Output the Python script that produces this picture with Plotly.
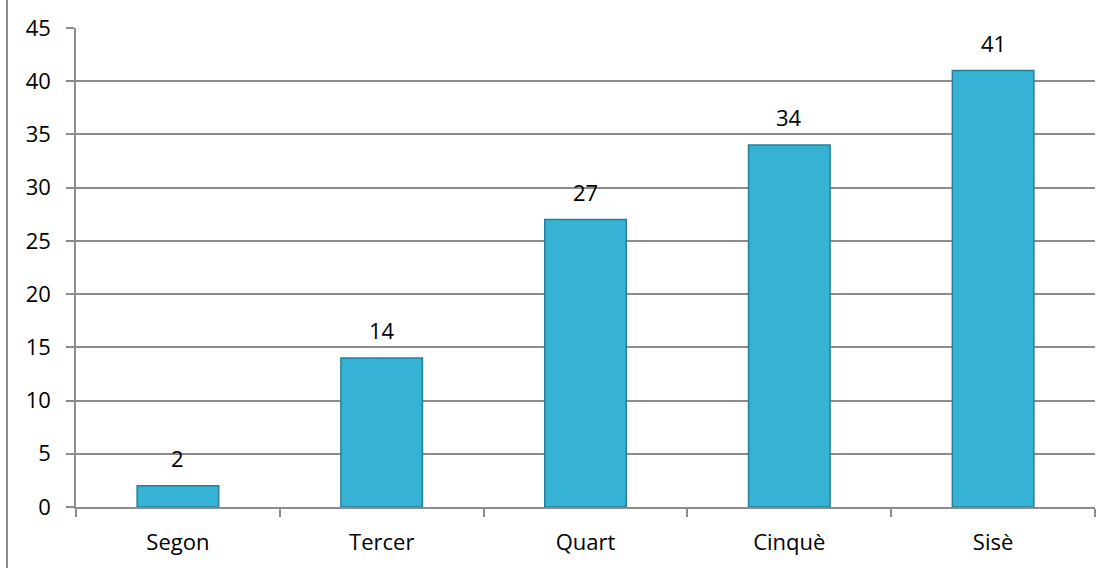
import plotly.graph_objects as go

categories = ["Segon", "Tercer", "Quart", "Cinquè", "Sisè"]
values = [2, 14, 27, 34, 41]
y_ticks = [0, 5, 10, 15, 20, 25, 30, 35, 40, 45]

xpos = list(range(len(categories)))
FONT = "Open Sans, Lato, sans-serif"
GRID = "#8c8c8c"
FS = 22

fig = go.Figure()
fig.add_trace(go.Bar(
    x=xpos, y=values, width=0.4,
    marker=dict(color="#36b2d5", line=dict(color="#237f9a", width=1.5)),
    hoverinfo="skip",
))

annotations = [
    dict(x=i, y=v, text=str(v), showarrow=False, yshift=28,
         xanchor="center", yanchor="middle",
         font=dict(family=FONT, size=FS, color="#000000"))
    for i, v in zip(xpos, values)
]

fig.update_layout(
    width=1113, height=568,
    margin=dict(l=76, r=18, t=24, b=60),
    paper_bgcolor="white", plot_bgcolor="white",
    showlegend=False,
    font=dict(family=FONT, size=FS, color="#000000"),
    xaxis=dict(
        range=[-0.5, len(categories) - 0.5],
        tickvals=xpos, ticktext=categories,
        ticks="", showgrid=False, zeroline=False,
        showline=True, linecolor=GRID, linewidth=1.5,
        tickfont=dict(family=FONT, size=FS),
        ticklabelstandoff=15,
        minor=dict(tick0=0.5, dtick=1, ticks="outside", ticklen=8,
                   tickcolor=GRID, tickwidth=1.5, showgrid=False),
        fixedrange=True,
    ),
    yaxis=dict(
        range=[0, 45], tickvals=y_ticks,
        ticks="outside", ticklen=8, tickcolor=GRID, tickwidth=1.5,
        showgrid=True, gridcolor=GRID, gridwidth=1.5,
        zeroline=False, showline=True, linecolor=GRID, linewidth=1.5,
        tickfont=dict(family=FONT, size=FS),
        ticklabelstandoff=11,
        fixedrange=True,
    ),
    annotations=annotations,
    shapes=[dict(type="line", xref="paper", yref="paper",
                 x0=-0.0677, x1=-0.0677, y0=-0.2, y1=1.1,
                 line=dict(color=GRID, width=2))],
)

fig.write_html("out.html", config={"displayModeBar": False},
               post_script="document.body.style.margin='0px';")
